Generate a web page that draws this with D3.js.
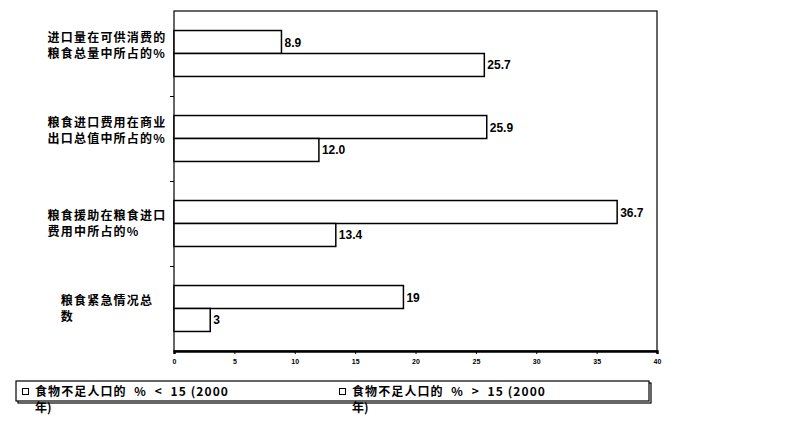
<!DOCTYPE html>
<html>
<head>
<meta charset="utf-8">
<script src="https://cdn.jsdelivr.net/npm/d3@7"></script>
<style>
body{margin:0;background:#fff;}
svg{display:block;}
.cjk{font-family:"Noto Sans CJK SC","Noto Sans",sans-serif;font-weight:bold;}
.num{font-family:"Liberation Sans",Arial,sans-serif;}
.pre{white-space:pre;}
</style>
</head>
<body>
<svg id="chart" width="810" height="424"></svg>
<script>
/* 数据 */
// 类别（每个类别的标签按行拆开，原图前两个标签末尾有空行）
var categories=["imports","foodImportBill","foodAid","emergencies"];
var categoryLines=[
	["进口量在可供消费的","粮食总量中所占的%",""],
	["粮食进口费用在商业","出口总值中所占的%",""],
	["粮食援助在粮食进口","费用中所占的%"],
	["粮食紧急情况总","数"]
];
// 两个系列
var seriesNames=["食物不足人口的  %  <  15 (2000","食物不足人口的  %  >  15 (2000"];
var seriesNameTail=["年)","年)"];
var lowUndernourished=[8.9,25.9,36.7,19];
var highUndernourished=[25.7,12.0,13.4,3];
// 数值标签的小数位
var labelDecimals=[1,1,1,0];
// 横轴刻度
var xTicks=[0,5,10,15,20,25,30,35,40];

/* 画布配置 */
var LEFT=174, RIGHT=657, TOP=11, BOTTOM=351;
var LINEHEIGHT=16;
var svg=d3.select("#chart");

var x=d3.scaleLinear().domain([0,40]).range([LEFT,RIGHT]);
var y=d3.scaleBand().domain(categories).range([TOP,BOTTOM]).padding(0);
var ySub=d3.scaleBand().domain([0,1]).range([0,y.bandwidth()]).paddingInner(0).paddingOuter(0.85);

// 绘图区边框
svg.append("rect")
	.attr("x",LEFT).attr("y",TOP)
	.attr("width",RIGHT-LEFT).attr("height",BOTTOM-TOP)
	.style("fill","none").style("stroke","#000").style("stroke-width",1.2);

// 左侧类别分隔刻度
svg.selectAll(".catTick")
	.data(categories.slice(1))
	.enter().append("line")
	.attr("class","catTick")
	.attr("x1",LEFT-4).attr("x2",LEFT)
	.attr("y1",function(d){return Math.round(y(d))+0.5;})
	.attr("y2",function(d){return Math.round(y(d))+0.5;})
	.style("stroke","#000");

// 柱子
var rows=categories.map(function(c,i){
	return [{cat:c,s:0,v:lowUndernourished[i],dec:labelDecimals[i]},
		{cat:c,s:1,v:highUndernourished[i],dec:labelDecimals[i]}];
});
var bars=[].concat.apply([],rows);

svg.selectAll(".bar")
	.data(bars)
	.enter().append("rect")
	.attr("class","bar")
	.attr("x",x(0))
	.attr("y",function(d){return y(d.cat)+ySub(d.s);})
	.attr("width",function(d){return x(d.v)-x(0);})
	.attr("height",ySub.bandwidth())
	.style("fill","#fff").style("stroke","#000").style("stroke-width",1.5);

svg.selectAll(".valueLabel")
	.data(bars)
	.enter().append("text")
	.attr("class","valueLabel num")
	.attr("x",function(d){return x(d.v)+3;})
	.attr("y",function(d){return y(d.cat)+ySub(d.s)+ySub.bandwidth()/2+4.5;})
	.style("font-size","12px").style("font-weight","bold")
	.text(function(d){return d.v.toFixed(d.dec);});

// 横轴
var xAxis=d3.axisBottom(x).tickValues(xTicks).tickSize(3).tickFormat(d3.format("d"));
var gx=svg.append("g").attr("transform","translate(0,"+BOTTOM+")").call(xAxis);
gx.select(".domain").style("stroke","#000").style("stroke-width",2.5);
gx.selectAll(".tick line").style("stroke","#000");
gx.selectAll(".tick text")
	.attr("class","num").attr("y",8)
	.style("font-size","7px").style("font-weight","bold").style("fill","#000");

// 类别标签：每行一个text，首行居中于x=107，其余行左对齐
categories.forEach(function(c,i){
	var lines=categoryLines[i];
	var cy=y(c)+y.bandwidth()/2;
	var texts=[];
	lines.forEach(function(line,j){
		if(line==""){return;}
		texts.push(svg.append("text")
			.attr("class","catLabel cjk")
			.attr("y",cy+(j-(lines.length-1)/2)*LINEHEIGHT+4.5)
			.style("font-size","12px").style("letter-spacing","1.2px").style("fill","#000")
			.text(line));
	});
	var w=texts[0].node().getComputedTextLength();
	texts.forEach(function(t){t.attr("x",107-w/2);});
});

// 图例
var legendBox={x:16,y:381,w:633,h:20};
svg.append("rect")
	.attr("x",legendBox.x+2).attr("y",legendBox.y+2)
	.attr("width",legendBox.w).attr("height",legendBox.h)
	.style("fill","none").style("stroke","#000").style("stroke-width",1.2);
svg.append("rect")
	.attr("x",legendBox.x).attr("y",legendBox.y)
	.attr("width",legendBox.w).attr("height",legendBox.h)
	.style("fill","#fff").style("stroke","#000").style("stroke-width",1.2);

var legendX=[22,339];
var lg=svg.selectAll(".legendItem")
	.data(seriesNames)
	.enter().append("g")
	.attr("class","legendItem")
	.attr("transform",function(d,i){return "translate("+legendX[i]+",0)";});
lg.append("rect")
	.attr("x",0.5).attr("y",388.5).attr("width",6).attr("height",6)
	.style("fill","#fff").style("stroke","#000");
lg.append("text")
	.attr("class","cjk pre")
	.attr("x",13).attr("y",396)
	.style("font-size","12px").style("letter-spacing","1.1px")
	.text(function(d){return d;});
lg.append("text")
	.attr("class","cjk")
	.attr("x",13).attr("y",412)
	.style("font-size","12px")
	.text(function(d,i){return seriesNameTail[i];});
</script>
</body>
</html>
